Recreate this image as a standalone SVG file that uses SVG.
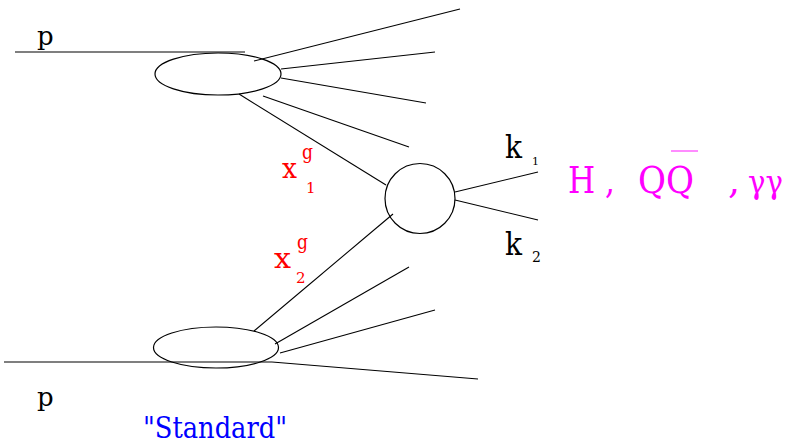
<svg xmlns="http://www.w3.org/2000/svg" width="790" height="448" viewBox="0 0 790 448">
<style>
.ln{stroke:#000;stroke-width:1.1;fill:none}
.beam{stroke:#555;stroke-width:1.6;fill:none}
.shape{stroke:#000;stroke-width:1.2;fill:none}
text{font-family:'DejaVu Serif','Noto Serif',serif}
.blk{fill:#000}
.red{fill:#ff0000}
.mag{fill:#ff00ff}
.blu{fill:#0000ff}
</style>
<rect width="790" height="448" fill="#fff"/>
<g id="connectors">
<line class="beam" x1="15" y1="52" x2="245" y2="52"/>
<line class="ln" x1="254" y1="61" x2="460" y2="9"/>
<line class="ln" x1="281" y1="69" x2="435" y2="52"/>
<line class="ln" x1="281" y1="78" x2="426" y2="103"/>
<line class="ln" x1="263" y1="96" x2="409" y2="147"/>
<line class="ln" x1="239" y1="94" x2="386" y2="185"/>
<line class="ln" x1="455" y1="192" x2="538" y2="172"/>
<line class="ln" x1="455" y1="200" x2="538" y2="220"/>
<line class="ln" x1="393" y1="214" x2="254" y2="331"/>
<line class="ln" x1="275" y1="344" x2="409" y2="267"/>
<line class="ln" x1="280" y1="353" x2="435" y2="310"/>
<line class="beam" x1="4" y1="362" x2="272" y2="362"/>
<line class="ln" x1="272" y1="362" x2="478" y2="379"/>
</g>
<g id="proton-top">
<ellipse class="shape" cx="218" cy="74" rx="63" ry="21"/>
<text class="blk" x="37" y="45" font-size="26">p</text>
</g>
<g id="proton-bottom">
<ellipse class="shape" cx="216" cy="347.5" rx="62.5" ry="20.5"/>
<text class="blk" x="37" y="406" font-size="26">p</text>
</g>
<g id="hard-process">
<circle class="shape" cx="420" cy="198.5" r="35"/>
</g>
<g id="label-x1">
<text class="red" x="282" y="178" font-size="27" textLength="15" lengthAdjust="spacingAndGlyphs">x</text>
<text class="red" x="302" y="159" font-size="20" textLength="11" lengthAdjust="spacingAndGlyphs">g</text>
<text class="red" x="306" y="193" font-size="15">1</text>
</g>
<g id="label-x2">
<text class="red" x="274" y="268" font-size="28" textLength="17" lengthAdjust="spacingAndGlyphs">x</text>
<text class="red" x="297" y="249" font-size="20" textLength="11" lengthAdjust="spacingAndGlyphs">g</text>
<text class="red" x="296" y="283" font-size="15">2</text>
</g>
<g id="label-k1">
<text class="blk" x="505" y="158" font-size="31" textLength="17" lengthAdjust="spacingAndGlyphs">k</text>
<text class="blk" x="532" y="165" font-size="11">1</text>
</g>
<g id="label-k2">
<text class="blk" x="505" y="255" font-size="31" textLength="17" lengthAdjust="spacingAndGlyphs">k</text>
<text class="blk" x="532" y="262" font-size="14">2</text>
</g>
<g id="final-states">
<text class="mag" x="568" y="193" font-size="38" textLength="47" lengthAdjust="spacingAndGlyphs">H ,</text>
<text class="mag" x="638" y="193" font-size="38" textLength="56" lengthAdjust="spacingAndGlyphs">QQ</text>
<line x1="671" y1="151" x2="698" y2="151" stroke="#ff66ff" stroke-width="1.5"/>
<text class="mag" x="728" y="193" font-size="38">,</text>
<text class="mag" x="748" y="193" font-size="32" textLength="35" lengthAdjust="spacingAndGlyphs">γγ</text>
</g>
<g id="label-standard">
<text class="blu" x="143" y="438" font-size="29" textLength="144" lengthAdjust="spacingAndGlyphs">"Standard"</text>
</g>
</svg>
